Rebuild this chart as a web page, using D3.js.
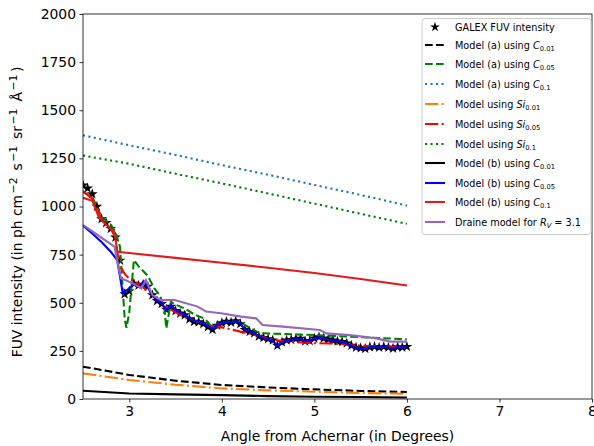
<!DOCTYPE html>
<html><head><meta charset="utf-8">
<script src="https://cdn.jsdelivr.net/npm/d3@7"></script>
<style>body{margin:0;background:#fff}svg{display:block;font-family:"DejaVu Sans",sans-serif}</style>
</head><body><svg id="c" width="594" height="446"></svg>
<script>
// ---- data ----
const galexX = [2.50,2.55,2.60,2.65,2.70,2.75,2.80,2.85,2.90,2.95,3.00,3.05,3.10,3.15,3.20,3.25,3.30,3.35,3.40,3.45,3.50,3.55,3.60,3.65,3.70,3.75,3.80,3.85,3.90,3.95,4.00,4.05,4.10,4.15,4.20,4.25,4.30,4.35,4.40,4.45,4.50,4.55,4.60,4.65,4.70,4.75,4.80,4.85,4.90,4.95,5.00,5.05,5.10,5.15,5.20,5.25,5.30,5.35,5.40,5.45,5.50,5.55,5.60,5.65,5.70,5.75,5.80,5.85,5.90,5.95,6.00];
const galexY = [1110,1095,1065,1000,935,915,885,840,720,545,560,600,590,595,585,540,510,495,465,480,458,445,436,415,402,400,390,375,360,382,395,402,398,405,390,360,350,342,325,318,312,305,278,295,305,308,312,314,300,302,315,322,315,310,305,300,298,290,278,268,265,262,270,272,268,272,268,263,270,268,272];

const smoothX = [2.5,3.0,3.5,4.0,4.5,5.0,5.5,6.0];
const aC001 = [168,125,95,73,60,50,42,36];
const aC01 = [1370,1318,1268,1215,1165,1112,1060,1005];
const si001 = [133,99,74,55,45,38,31,27];
const si01 = [1265,1222,1170,1120,1068,1015,962,910];
const bC001 = [43,29,24,20,15,12,10,8];

const aC005X = [2.5,2.6,2.65,2.7,2.8,2.85,2.9,2.95,2.97,3.0,3.05,3.1,3.2,3.27,3.33,3.38,3.4,3.45,3.5,3.6,3.7,3.8,3.85,3.9,3.95,4.0,4.1,4.2,4.3,4.4,4.5,4.66,5.0,5.38,6.0];
const aC005Y = [1075,1050,1000,945,905,870,790,420,370,450,722,690,640,575,540,470,367,505,490,470,440,420,400,365,390,395,405,400,370,345,340,338,332,324,310];

const si005X = [2.5,2.6,2.65,2.7,2.8,2.85,2.89,2.95,3.0,3.1,3.2,3.3,3.4,3.5,3.6,3.7,3.8,3.9,4.0,4.1,4.2,4.3,4.4,4.5,4.6,4.8,5.0,5.2,5.4,5.6,5.8,6.0];
const si005Y = [1080,1040,990,935,885,840,700,650,625,598,560,515,480,450,428,408,392,380,372,362,350,340,328,315,305,295,290,288,280,275,272,270];

const bC005X = [2.5,2.6,2.7,2.8,2.87,2.93,3.0,3.05,3.1,3.16,3.2,3.25,3.3,3.35,3.4,3.45,3.5,3.55,3.6,3.65,3.7,3.75,3.8,3.85,3.9,3.95,4.0,4.05,4.1,4.15,4.2,4.25,4.3,4.35,4.4,4.45,4.5,4.55,4.6,4.65,4.7,4.75,4.8,4.85,4.9,4.95,5.0,5.05,5.1,5.15,5.2,5.25,5.3,5.35,5.4,5.45,5.5,5.55,5.6,5.65,5.7,5.75,5.8,5.85,5.9,5.95,6.0];
const bC005Y = [900,860,815,765,722,549,575,595,585,610,580,540,512,498,462,488,462,448,438,420,405,402,392,378,365,385,395,402,400,405,392,362,352,343,326,318,312,304,275,295,304,308,310,312,300,303,314,320,314,309,305,300,297,288,276,266,264,262,270,272,268,272,268,264,270,268,272];

const bC01X = [2.5,2.6,2.67,2.75,2.84,2.87,3.0,3.5,4.0,4.5,5.0,5.5,6.0];
const bC01Y = [1045,1030,945,905,867,765,758,733,708,682,655,623,590];

const draineX = [2.5,2.84,2.91,3.04,3.13,3.18,3.25,3.34,3.49,3.74,3.83,3.99,4.21,4.37,4.44,4.66,5.06,5.13,5.38,5.67,5.82,6.0];
const draineY = [904,791,627,601,575,618,540,514,514,480,454,445,428,419,384,376,358,341,332,315,298,298];

const xTicks = [3,4,5,6,7,8];
const yTicks = [0,250,500,750,1000,1250,1500,1750,2000];

// ---- setup ----
const svg = d3.select("#c");
const L=83, R=592, T=14, B=399;
const x = d3.scaleLinear().domain([2.5,8]).range([L,R]);
const y = d3.scaleLinear().domain([0,2000]).range([B,T]);
const lw = 2.08;
const DASH = {solid:null, dashed:"7.7,3.3", dotted:"2.1,3.4", dashdot:"13.3,3.3,2.1,3.3"};

svg.append("defs").append("clipPath").attr("id","clip")
  .append("rect").attr("x",L).attr("y",T).attr("width",R-L).attr("height",B-T);
const plot = svg.append("g").attr("clip-path","url(#clip)");

const pair = (xa, ya) => xa.map((v,i)=>[v, ya[i]]);
const line = d3.line().x(d=>x(d[0])).y(d=>y(d[1]));

// GALEX stars
const star = d3.symbol().type(d3.symbolStar).size(36);
plot.append("g").selectAll("path").data(pair(galexX, galexY)).join("path")
  .attr("d", star).attr("transform", d=>`translate(${x(d[0])},${y(d[1])})`).attr("fill","#000");

const series = [
  {xs:smoothX, ys:aC001, color:"#000000", style:"dashed"},
  {xs:aC005X, ys:aC005Y, color:"#008000", style:"dashed"},
  {xs:smoothX, ys:aC01, color:"#1f77b4", style:"dotted"},
  {xs:smoothX, ys:si001, color:"#ff7f0e", style:"dashdot"},
  {xs:si005X, ys:si005Y, color:"#ff0000", style:"dashdot"},
  {xs:smoothX, ys:si01, color:"#008000", style:"dotted"},
  {xs:smoothX, ys:bC001, color:"#000000", style:"solid"},
  {xs:bC005X, ys:bC005Y, color:"#0000ff", style:"solid"},
  {xs:bC01X, ys:bC01Y, color:"#e31a1c", style:"solid"},
  {xs:draineX, ys:draineY, color:"#9467bd", style:"solid"}
];
series.forEach(s=>{
  plot.append("path").attr("d", line(pair(s.xs, s.ys))).attr("fill","none")
    .attr("stroke", s.color).attr("stroke-width", lw)
    .attr("stroke-dasharray", DASH[s.style]);
});

// axes
const fs = 13.9;
const gx = svg.append("g").attr("transform",`translate(0,${B})`)
  .call(d3.axisBottom(x).tickValues(xTicks).tickFormat(d3.format("d")).tickSizeInner(3.5).tickSizeOuter(0).tickPadding(3.5));
const gy = svg.append("g").attr("transform",`translate(${L},0)`)
  .call(d3.axisLeft(y).tickValues(yTicks).tickFormat(d3.format("d")).tickSizeInner(3.5).tickSizeOuter(0).tickPadding(3.5));
[gx,gy].forEach(g=>{
  g.selectAll("text").attr("font-size",fs).attr("font-family","DejaVu Sans").attr("fill","#000");
  g.selectAll("line").attr("stroke","#000").attr("stroke-width",0.8);
  g.select(".domain").remove();
});
svg.append("rect").attr("x",L).attr("y",T).attr("width",R-L).attr("height",B-T)
  .attr("fill","none").attr("stroke","#000").attr("stroke-width",0.8);

svg.append("text").attr("x",(L+R)/2).attr("y",441).attr("text-anchor","middle")
  .attr("font-size",fs).text("Angle from Achernar (in Degrees)");

const yl = svg.append("text").attr("transform",`translate(22,212) rotate(-90)`)
  .attr("text-anchor","middle").attr("font-size",fs);
const ylParts = [["FUV intensity (in ph cm",""],["−2","sup"],[" s",""],["−1","sup"],[" sr",""],["−1","sup"],[" Å",""],["−1","sup"],[")",""]];
let prevSup=false;
ylParts.forEach(p=>{
  const t = yl.append("tspan").text(p[0]);
  if(p[1]==="sup"){ t.attr("font-size",fs*0.78).attr("dy",-5.5).attr("dx",1.5); prevSup=true; }
  else if(prevSup){ t.attr("dy",5.5).attr("dx",2.5); prevSup=false; }
});

// legend
const legendItems = [
  {label:["GALEX FUV intensity"], marker:true},
  {label:["Model (a) using ","C","0.01"], s:0},
  {label:["Model (a) using ","C","0.05"], s:1},
  {label:["Model (a) using ","C","0.1"], s:2},
  {label:["Model using ","Si","0.01"], s:3},
  {label:["Model using ","Si","0.05"], s:4},
  {label:["Model using ","Si","0.1"], s:5},
  {label:["Model (b) using ","C","0.01"], s:6},
  {label:["Model (b) using ","C","0.05"], s:7},
  {label:["Model (b) using ","C","0.1"], s:8},
  {label:["Draine model for ","R","V"," = 3.1"], s:9}
];
const lg = svg.append("g");
lg.append("rect").attr("x",422).attr("y",18.5).attr("width",169).attr("height",216).attr("rx",3)
  .attr("fill","#fff").attr("fill-opacity",0.8).attr("stroke","#cccccc").attr("stroke-width",1);
const rowY = [27,45,64,84,104,124,144,163,183,202,222];
const lfs = 9.7;
legendItems.forEach((it,i)=>{
  const yy = rowY[i];
  if(it.marker){
    lg.append("path").attr("d", d3.symbol().type(d3.symbolStar).size(30)())
      .attr("transform",`translate(435,${yy})`).attr("fill","#000");
  } else {
    const s = series[it.s];
    lg.append("line").attr("x1",425).attr("x2",445).attr("y1",yy).attr("y2",yy)
      .attr("stroke",s.color).attr("stroke-width",lw).attr("stroke-dasharray",DASH[s.style]);
  }
  const t = lg.append("text").attr("x",455).attr("y",yy+3.5).attr("font-size",lfs);
  t.append("tspan").text(it.label[0]);
  if(it.label.length>1){
    t.append("tspan").attr("font-style","italic").text(it.label[1]);
    t.append("tspan").attr("font-size",lfs*0.7).attr("dy",2.5)
      .attr("font-style", it.label[2]==="V"?"italic":"normal").text(it.label[2]);
    if(it.label[3]) t.append("tspan").attr("dy",-2.5).text(it.label[3]);
  }
});
</script></body></html>
